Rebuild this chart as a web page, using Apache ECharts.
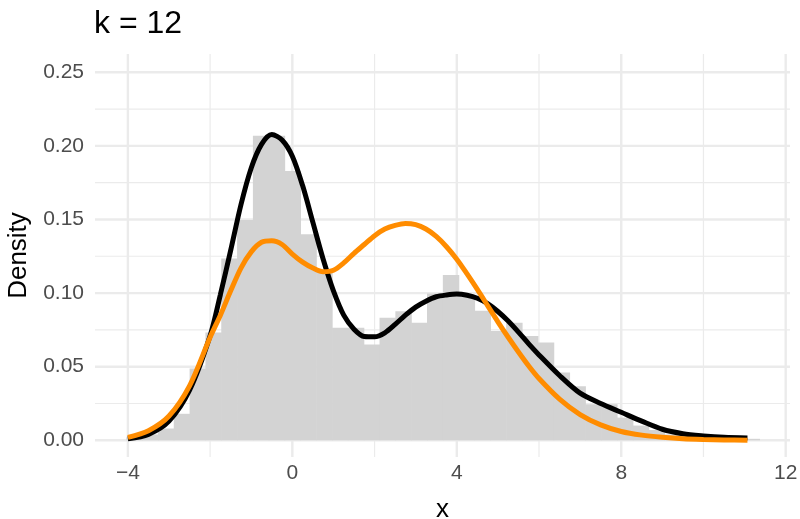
<!DOCTYPE html>
<html>
<head>
<meta charset="utf-8">
<title>k = 12</title>
<script src="https://cdn.jsdelivr.net/npm/echarts@6/dist/echarts.min.js"></script>
<style>
  html, body { margin: 0; padding: 0; background: #ffffff; }
  #chart { width: 800px; height: 519px; }
</style>
</head>
<body>
<div id="chart"></div>
<script>
// Histogram of the sample: 40 equal-width bins
const binStart = -4.039;
const binWidth = 0.385;
const binDensity = [
  0.002, 0.004, 0.008, 0.018, 0.0487, 0.0732, 0.1235, 0.1496, 0.2069, 0.2069,
  0.1829, 0.1399, 0.1144, 0.0764, 0.0764, 0.0651, 0.0832, 0.0877, 0.0798, 0.0997,
  0.1122, 0.098, 0.088, 0.0743, 0.0798, 0.0709, 0.0664, 0.046, 0.0367, 0.0245,
  0.0245, 0.0154, 0.010, 0.007, 0.004, 0.003, 0.002, 0.001, 0.0005, 0.001
];

// Density curves evaluated on a shared x grid
const curveX = [
  -4, -3.5, -3, -2.5, -2, -1.75, -1.5, -1.25, -1, -0.75, -0.5, -0.25,
  0, 0.25, 0.5, 0.75, 1, 1.25, 1.5, 1.75, 2, 2.25, 2.5, 2.75,
  3, 3.25, 3.5, 3.75, 4, 4.25, 4.5, 4.75, 5, 5.25, 5.5, 5.75,
  6, 6.5, 7, 7.5, 8, 8.5, 9, 9.5, 10, 10.5, 11.07
];
const blackDensity = [
  0.001, 0.004, 0.013, 0.034, 0.071, 0.099, 0.129, 0.160, 0.185, 0.201, 0.2077, 0.204,
  0.193, 0.173, 0.148, 0.123, 0.1015, 0.085, 0.0755, 0.0705, 0.0703, 0.073, 0.0787, 0.085,
  0.0905, 0.0945, 0.0975, 0.0987, 0.0993, 0.0985, 0.0965, 0.0928, 0.0875, 0.081, 0.0735, 0.0655,
  0.058, 0.044, 0.032, 0.025, 0.019, 0.013, 0.0075, 0.0045, 0.003, 0.002, 0.0015
];
const orangeDensity = [
  0.002, 0.0065, 0.0165, 0.037, 0.070, 0.085, 0.1015, 0.117, 0.128, 0.1345, 0.1355, 0.133,
  0.1265, 0.121, 0.117, 0.1145, 0.1155, 0.1205, 0.127, 0.133, 0.139, 0.1435, 0.146, 0.1473,
  0.1465, 0.1435, 0.1385, 0.1315, 0.123, 0.113, 0.1025, 0.0915, 0.0805, 0.070, 0.060, 0.0505,
  0.042, 0.028, 0.0175, 0.0105, 0.006, 0.0035, 0.002, 0.001, 0.0005, 0.0002, 0.0001
];

// Axis breaks
const xMajor = [-4, 0, 4, 8, 12];
const xMajorLabels = ['\u22124', '0', '4', '8', '12'];
const xMinor = [-2, 2, 6, 10];
const yMajor = [0, 0.05, 0.10, 0.15, 0.20, 0.25];
const yMajorLabels = ['0.00', '0.05', '0.10', '0.15', '0.20', '0.25'];
const yMinor = [0.025, 0.075, 0.125, 0.175, 0.225];

const FONT = '"Liberation Sans", Arial, Helvetica, sans-serif';
const GRID_COLOR = '#ebebeb';

const histData = binDensity.map((d, i) => [binStart + i * binWidth, binStart + (i + 1) * binWidth, d]);
const blackData = curveX.map((x, i) => [x, blackDensity[i]]);
const orangeData = curveX.map((x, i) => [x, orangeDensity[i]]);

// Panel grid lines spanning the whole plotting panel
function verticalRule(width) {
  return (params, api) => {
    const cs = params.coordSys;
    const x = api.coord([api.value(0), 0])[0];
    return {
      type: 'line',
      shape: { x1: x, y1: cs.y, x2: x, y2: cs.y + cs.height },
      style: { stroke: GRID_COLOR, lineWidth: width }
    };
  };
}
function horizontalRule(width) {
  return (params, api) => {
    const cs = params.coordSys;
    const y = api.coord([0, api.value(0)])[1];
    return {
      type: 'line',
      shape: { x1: cs.x, y1: y, x2: cs.x + cs.width, y2: y },
      style: { stroke: GRID_COLOR, lineWidth: width }
    };
  };
}
function ruleSeries(values, dim, width) {
  return {
    type: 'custom',
    z: 1,
    silent: true,
    data: values.map(v => [v]),
    encode: dim === 'x' ? { x: 0 } : { y: 0 },
    renderItem: dim === 'x' ? verticalRule(width) : horizontalRule(width)
  };
}

const chart = echarts.init(document.getElementById('chart'), null, { renderer: 'canvas' });

chart.setOption({
  animation: false,
  backgroundColor: '#ffffff',
  title: {
    text: 'k = 12',
    left: 94,
    top: 8,
    padding: 0,
    textStyle: { fontFamily: FONT, fontSize: 32, fontWeight: 'normal', color: '#000000', lineHeight: 32 }
  },
  grid: { left: 95, right: 10, top: 54, bottom: 62, outerBoundsMode: 'none' },
  xAxis: {
    type: 'value',
    min: -4.80,
    max: 12.105,
    name: 'x',
    nameLocation: 'middle',
    nameGap: 40,
    nameTextStyle: { fontFamily: FONT, fontSize: 26, color: '#000000' },
    axisLine: { show: false },
    axisTick: { show: false },
    splitLine: { show: false },
    axisLabel: {
      customValues: xMajor,
      formatter: v => xMajorLabels[xMajor.indexOf(v)],
      fontFamily: FONT, fontSize: 21, color: '#4d4d4d', margin: 6
    }
  },
  yAxis: {
    type: 'value',
    min: -0.01135,
    max: 0.2624,
    name: 'Density',
    nameLocation: 'middle',
    nameRotate: 90,
    nameGap: 62,
    nameTextStyle: { fontFamily: FONT, fontSize: 26, color: '#000000' },
    axisLine: { show: false },
    axisTick: { show: false },
    splitLine: { show: false },
    axisLabel: {
      customValues: yMajor,
      formatter: v => {
        const i = yMajor.findIndex(t => Math.abs(t - v) < 1e-9);
        return i >= 0 ? yMajorLabels[i] : '';
      },
      fontFamily: FONT, fontSize: 21, color: '#4d4d4d', margin: 11
    }
  },
  series: [
    ruleSeries(xMinor, 'x', 1.2),
    ruleSeries(yMinor, 'y', 1.2),
    ruleSeries(xMajor, 'x', 2.4),
    ruleSeries(yMajor, 'y', 2.4),
    {
      type: 'custom',
      z: 2,
      silent: true,
      data: histData,
      encode: { x: [0, 1], y: 2 },
      renderItem: (params, api) => {
        const top = api.coord([api.value(0), api.value(2)]);
        const bottom = api.coord([api.value(1), 0]);
        return {
          type: 'rect',
          shape: { x: top[0], y: top[1], width: bottom[0] - top[0] + 0.6, height: bottom[1] - top[1] },
          style: { fill: '#d3d3d3' }
        };
      }
    },
    {
      type: 'line',
      z: 3,
      data: blackData,
      smooth: 0.3,
      showSymbol: false,
      silent: true,
      lineStyle: { color: '#000000', width: 5, cap: 'butt' }
    },
    {
      type: 'line',
      z: 4,
      data: orangeData,
      smooth: 0.3,
      showSymbol: false,
      silent: true,
      lineStyle: { color: '#ff8c00', width: 5, cap: 'butt' }
    }
  ]
});
</script>
</body>
</html>
